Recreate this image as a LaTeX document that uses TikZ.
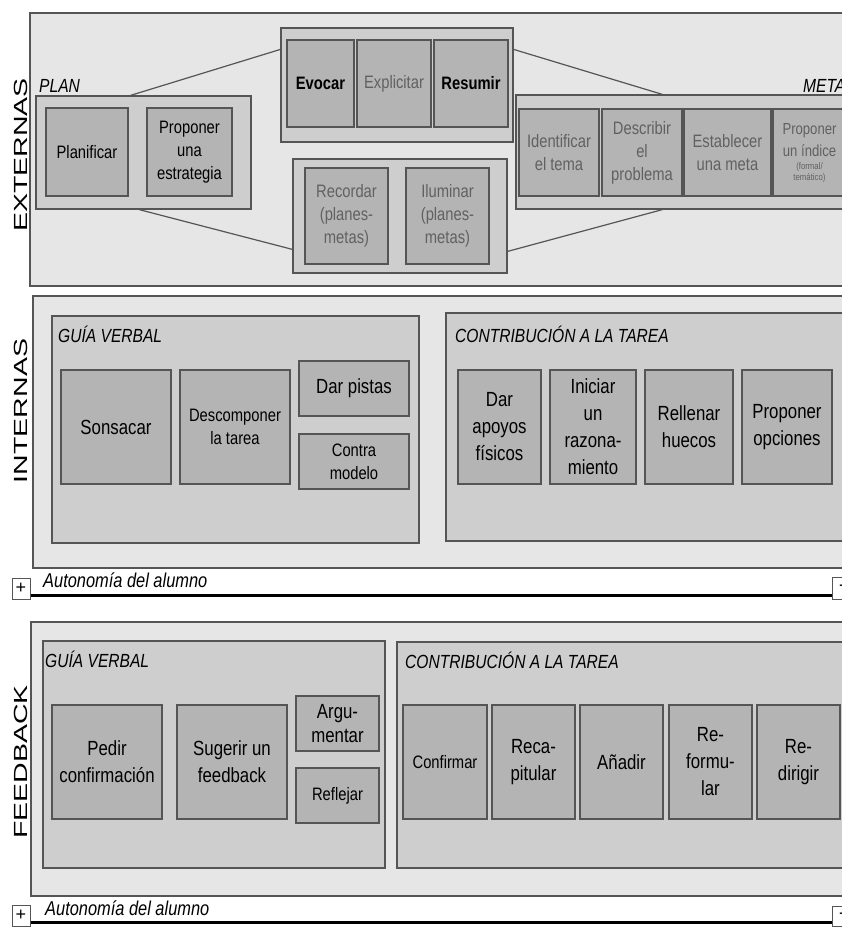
\documentclass[tikz,border=0pt]{standalone}
\usepackage{fontspec}
\setmainfont{Liberation Sans}
\newfontfamily\estrecha[FakeStretch=0.82]{Liberation Sans}
\newfontfamily\ancha[FakeStretch=1.5]{Liberation Sans}
\usepackage{tikz}
\usetikzlibrary{positioning,calc}
\definecolor{grisclaro}{RGB}{230,230,230}
\definecolor{grismedio}{RGB}{206,206,206}
\definecolor{grisoscuro}{RGB}{180,180,180}
\definecolor{borde}{RGB}{85,85,85}
\newcommand{\chico}{\fontsize{9.5}{10}\selectfont}

\begin{document}
\begin{tikzpicture}[x=1pt,y=-1pt,
   zona/.style n args={4}{at={({(#1+#3)/2},{(#2+#4)/2})},minimum width={#3-#1},minimum height={#4-#2}},
   seccion/.style={draw=borde,fill=grisclaro,line width=1.2pt,inner sep=0pt},
   grupo/.style={draw=borde,fill=grismedio,line width=1.2pt,inner sep=0pt},
   caja/.style={draw=borde,fill=grisoscuro,line width=1.1pt,inner sep=0pt,align=center,
      font=\estrecha\fontsize{18}{23}\selectfont},
   grande/.style={font=\estrecha\fontsize{20.5}{27}\selectfont},
   tenue/.style={caja,text=black!62},
   titulo/.style={anchor=base west,inner sep=0pt,font=\estrecha\itshape\fontsize{19}{22}\selectfont},
   lado/.style={rotate=90,inner sep=0pt,font=\ancha\fontsize{19}{22}\selectfont},
   enlace/.style={draw=borde,line width=1.2pt},
   eje/.style={draw=black,line width=3pt},
   signo/.style={draw=borde,fill=white,line width=1pt,inner sep=0pt,font=\fontsize{18}{18}\selectfont}]
   \useasboundingbox (0,0) rectangle (842,928);
   \clip (0,0) rectangle (842,928);

   % externas
   \node[seccion,zona={30}{13}{870}{286}] (ext) {};
   \node[lado] (extl) at (21,155) {EXTERNAS};
   \node[titulo] (planl) at (39,93) {PLAN};
   \node[grupo,zona={36}{96}{251}{209}] (plan) {};
   \node[caja,zona={46}{108}{128}{196}] (planif) {Planificar};
   \node[caja,zona={147}{108}{232}{196}] (estrat) {Proponer\\una\\estrategia};
   \node[grupo,zona={281}{28}{513}{142}] (evgrp) {};
   \node[caja,zona={287}{40}{354}{127}] (evocar) {\bfseries Evocar};
   \node[tenue,zona={357}{40}{431}{127}] (explic) {Explicitar};
   \node[caja,zona={434}{40}{508}{127}] (resum) {\bfseries Resumir};
   \node[grupo,zona={293}{159}{507}{273}] (regrp) {};
   \node[tenue,zona={305}{168}{388}{264}] (record) {Recordar\\(planes-\\metas)};
   \node[tenue,zona={406}{168}{489}{264}] (ilum) {Iluminar\\(planes-\\metas)};
   \node[titulo] (metal) at (803,93) {META};
   \node[grupo,zona={516}{95}{860}{209}] (meta) {};
   \node[tenue,zona={519}{109}{599}{196}] (ident) {Identificar\\el tema};
   \node[tenue,zona={602}{109}{682}{196}] (descr) {Describir\\el\\problema};
   \node[tenue,zona={684}{109}{771}{196}] (estab) {Establecer\\una meta};
   \node[tenue,zona={773}{109}{846}{196},font=\estrecha\fontsize{16}{22}\selectfont] (indice)
      {Proponer\\un índice\\[-9pt]{\chico(formal/}\\[-11pt]{\chico temático)}};
   \draw[enlace] ($(plan.north west)!0.44!(plan.north east)$) -- ($(evgrp.north west)+(0,22)$);
   \draw[enlace] ($(plan.south west)!0.48!(plan.south east)$) -- ($(regrp.north west)+(0,91)$);
   \draw[enlace] ($(evgrp.north east)+(0,22)$) -- ($(meta.north west)+(147,0)$);
   \draw[enlace] ($(regrp.north east)+(0,93)$) -- ($(meta.south west)+(147,0)$);

   % internas
   \node[seccion,zona={33}{296}{870}{568}] (int) {};
   \node[lado] (intl) at (21,411) {INTERNAS};
   \node[grupo,zona={52}{316}{419}{543}] (guia1) {};
   \node[titulo] (guia1l) at (58,342) {GUÍA VERBAL};
   \node[caja,grande,zona={61}{370}{171}{484}] (sonsa) {Sonsacar};
   \node[caja,zona={180}{370}{290}{484}] (descomp) {Descomponer\\la tarea};
   \node[caja,grande,zona={299}{361}{409}{416}] (pistas) {Dar pistas};
   \node[caja,zona={299}{434}{409}{489}] (contra) {Contra\\modelo};
   \node[grupo,zona={446}{313}{860}{541}] (aporte1) {};
   \node[titulo] (aporte1l) at (455,342) {CONTRIBUCIÓN A LA TAREA};
   \node[caja,grande,zona={458}{370}{541}{484}] (apoyos) {Dar\\apoyos\\físicos};
   \node[caja,grande,zona={550}{370}{636}{484}] (iniciar) {Iniciar\\un\\razona-\\miento};
   \node[caja,grande,zona={645}{370}{733}{484}] (rellenar) {Rellenar\\huecos};
   \node[caja,grande,zona={742}{370}{832}{484}] (opciones) {Proponer\\opciones};

   \node[signo,zona={12}{578}{30}{599}] (mas1) {+};
   \node[signo,zona={832}{577}{852}{599}] (menos1) {-};
   \draw[eje] ($(mas1.south east)+(0,-4)$) -- ($(menos1.south west)+(0,-4)$);
   \node[titulo,font=\estrecha\itshape\fontsize{20}{22}\selectfont] (auto1) at (43,587) {Autonomía del alumno};

   % feedback
   \node[seccion,zona={31}{622}{870}{896}] (fb) {};
   \node[lado] (fbl) at (21,762) {FEEDBACK};
   \node[grupo,zona={43}{641}{385}{868}] (guia2) {};
   \node[titulo] (guia2l) at (45,667) {GUÍA VERBAL};
   \node[caja,grande,zona={52}{705}{162}{819}] (pedir) {Pedir\\confirmación};
   \node[caja,grande,zona={177}{705}{287}{819}] (sugerir) {Sugerir un\\feedback};
   \node[caja,grande,zona={296}{696}{379}{751}] (argu) {Argu-\\[-3pt]mentar};
   \node[caja,zona={296}{768}{379}{823}] (reflejar) {Reflejar};
   \node[grupo,zona={397}{642}{860}{868}] (aporte2) {};
   \node[titulo] (aporte2l) at (405,668) {CONTRIBUCIÓN A LA TAREA};
   \node[caja,zona={403}{705}{487}{819}] (confirmar) {Confirmar};
   \node[caja,grande,zona={492}{705}{575}{819}] (recap) {Reca-\\pitular};
   \node[caja,grande,zona={580}{705}{663}{819}] (anadir) {Añadir};
   \node[caja,grande,zona={669}{705}{752}{819}] (reform) {Re-\\formu-\\lar};
   \node[caja,grande,zona={757}{705}{840}{819}] (redir) {Re-\\dirigir};

   \node[signo,zona={12}{905}{30}{926}] (mas2) {+};
   \node[signo,zona={832}{906}{852}{926}] (menos2) {-};
   \draw[eje] ($(mas2.south east)+(0,-4)$) -- ($(menos2.south west)+(0,-4)$);
   \node[titulo,font=\estrecha\itshape\fontsize{20}{22}\selectfont] (auto2) at (45,915) {Autonomía del alumno};
\end{tikzpicture}
\end{document}
